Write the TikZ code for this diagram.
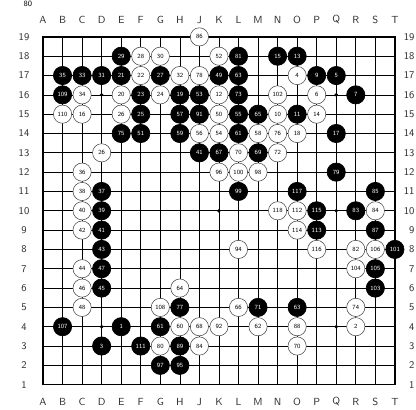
\documentclass[tikz,border=0pt]{standalone}
\begin{document}
\begin{tikzpicture}[x=0.6cm,y=0.593cm,line width=0.6pt,
  bstone/.style={circle,draw=black,fill=black,text=white,minimum size=0.56cm,
    inner sep=0pt,font=\sffamily\fontsize{5.5}{5.5}\selectfont},
  wstone/.style={circle,draw=black!75,fill=white,line width=0.45pt,minimum size=0.56cm,
    inner sep=0pt,font=\sffamily\fontsize{5.5}{5.5}\selectfont},
  coordlabel/.style={font=\sffamily\fontsize{9}{9}\selectfont,text=black!80}]
 \useasboundingbox (-1.2,-0.29) rectangle (20.08,20.91);
 \node[font=\sffamily\fontsize{7}{7}\selectfont,anchor=north,inner sep=0.5pt] (fignum) at (0.23,20.91) {80};
 % board
 \foreach \i in {1,...,19} {
   \draw (\i,1) -- (\i,19);
   \draw (1,\i) -- (19,\i);
 }
 \draw[line width=1.3pt] (1,1) rectangle (19,19);
 \foreach \c/\r in {4/4,10/4,16/4,4/10,10/10,16/10,4/16,10/16,16/16}
   \fill (\c,\r) circle (0.1);
 % coordinates
 \foreach \l [count=\i] in {A,B,C,D,E,F,G,H,J,K,L,M,N,O,P,Q,R,S,T} {
   \node[coordlabel] (top\l) at (\i,19.88) {\l};
   \node[coordlabel] (bot\l) at (\i,0.12) {\l};
 }
 \foreach \r in {1,...,19} {
   \node[coordlabel] (left\r) at (0.03,\r) {\r};
   \node[coordlabel,anchor=east,inner xsep=1pt] (right\r) at (20.08,\r) {\r};
 }
 % black stones
 \foreach \c/\r/\n in {5/18/29,11/18/81,13/18/15,14/18/13,
   2/17/35,3/17/33,4/17/31,5/17/21,7/17/27,10/17/49,11/17/63,15/17/9,16/17/5,
   2/16/109,6/16/23,8/16/19,9/16/53,11/16/73,17/16/7,
   6/15/25,8/15/57,9/15/91,11/15/55,12/15/65,14/15/11,
   5/14/75,6/14/51,8/14/59,11/14/61,16/14/17,
   9/13/41,10/13/67,12/13/69,16/12/79,
   4/11/37,11/11/99,14/11/117,18/11/85,
   4/10/39,15/10/115,17/10/83,
   4/9/41,15/9/113,18/9/87,4/8/43,19/8/101,
   4/7/47,18/7/105,4/6/45,18/6/103,
   8/5/77,12/5/71,14/5/63,
   2/4/107,5/4/1,7/4/61,
   4/3/3,6/3/111,8/3/89,7/2/97,8/2/95}
   \node[bstone] (p\c-\r) at (\c,\r) {\n};
 % white stones
 \foreach \c/\r/\n in {9/19/86,6/18/28,7/18/30,10/18/52,
   6/17/22,8/17/32,9/17/78,14/17/4,
   3/16/34,5/16/20,7/16/24,10/16/12,13/16/102,15/16/6,
   2/15/110,3/15/16,5/15/26,10/15/50,13/15/10,15/15/14,
   9/14/56,10/14/54,12/14/58,13/14/76,14/14/18,
   4/13/26,11/13/70,13/13/72,
   3/12/36,10/12/96,11/12/100,12/12/98,
   3/11/38,3/10/40,13/10/118,14/10/112,18/10/84,
   3/9/42,14/9/114,
   11/8/94,15/8/116,17/8/82,18/8/106,
   3/7/44,17/7/104,3/6/46,8/6/64,
   3/5/48,7/5/108,11/5/66,17/5/74,
   8/4/60,9/4/68,10/4/92,12/4/62,14/4/88,17/4/2,
   7/3/80,9/3/84,14/3/70}
   \node[wstone] (p\c-\r) at (\c,\r) {\n};
\end{tikzpicture}
\end{document}
